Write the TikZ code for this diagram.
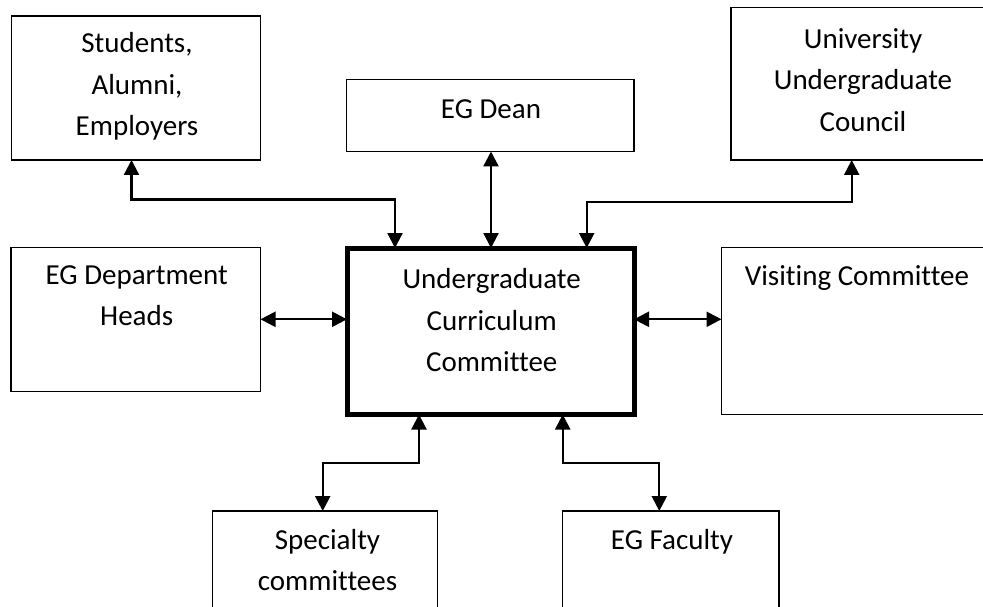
\documentclass[tikz,border=0pt]{standalone}
\usepackage{fontspec}
\setmainfont{Carlito}[Ligatures={NoCommon}]
\usetikzlibrary{arrows.meta}
\tikzset{
  box/.style={draw=black, line width=1.4pt, rectangle, inner sep=0pt, outer sep=0pt, anchor=north west},
  mainbox/.style={box, line width=5pt},
  lbl/.style={inner sep=0pt, align=center, anchor=north, font=\fontsize{29}{41.5}\selectfont},
  arr/.style={line width=2.3pt, {Triangle[width=15pt,length=15pt]}-{Triangle[width=15pt,length=15pt]}}
}
\begin{document}
\begin{tikzpicture}[x=1pt,y=-1pt]
\useasboundingbox (0,0) rectangle (983,607);
\clip (0,0) rectangle (983,607);
\fill[white] (0,0) rectangle (983,607);
% boxes (line-centre coordinates)
\node[box, minimum width=249pt, minimum height=144pt] (stu) at (11.5,16) {};
\node[box, minimum width=287.5pt, minimum height=72pt] (dean) at (346.5,79.5) {};
\node[box, minimum width=264pt, minimum height=152.5pt] (uni) at (731,7.5) {};
\node[box, minimum width=249.5pt, minimum height=144pt] (dept) at (11,247.5) {};
\node[mainbox, minimum width=287pt, minimum height=166.5pt] (cc) at (347,248) {};
\node[box, minimum width=274pt, minimum height=167pt] (vis) at (721.5,247.5) {};
\node[box, minimum width=225pt, minimum height=120pt] (spec) at (212.5,511) {};
\node[box, minimum width=216.5pt, minimum height=120pt] (fac) at (562.5,511) {};
% texts
\node[lbl] (stu-t) at (137,23.5) {\strut Students,\\\strut Alumni,\\\strut Employers};
\node[lbl] (dean-t) at (491,89.5) {\strut EG Dean};
\node[lbl] (uni-t) at (863,19) {\strut University\\\strut Undergraduate\\\strut Council};
\node[lbl] (dept-t) at (136.7,255) {\strut EG Department\\\strut Heads};
\node[lbl] (cc-t) at (491.7,259.5) {\strut Undergraduate\\\strut Curriculum\\\strut Committee};
\node[lbl] (vis-t) at (857,256.5) {\strut Visiting Committee};
\node[lbl] (spec-t) at (327.5,520) {\strut Specialty\\\strut committees};
\node[lbl] (fac-t) at (672,520) {\strut EG Faculty};
% routing coordinates
\coordinate (s1) at (131.5,199.5);
\coordinate (s2) at (395,199.5);
\coordinate (u1) at (851.7,201.7);
\coordinate (u2) at (586.7,201.7);
\coordinate (d1) at (491,0);
\coordinate (h1) at (0,319.3);
\coordinate (p1) at (419,463.3);
\coordinate (p2) at (322.7,463.3);
\coordinate (f1) at (562.7,463.3);
\coordinate (f2) at (659.3,463.3);
% connectors
\draw[arr] (stu.south -| s1) -- (s1) -- (s2) -- (cc.north -| s2);
\draw[arr] (dean.south -| d1) -- (cc.north -| d1);
\draw[arr] (uni.south -| u1) -- (u1) -- (u2) -- (cc.north -| u2);
\draw[arr] (dept.east |- h1) -- (cc.west |- h1);
\draw[arr] (cc.east |- h1) -- (vis.west |- h1);
\draw[arr] (cc.south -| p1) -- (p1) -- (p2) -- (spec.north -| p2);
\draw[arr] (cc.south -| f1) -- (f1) -- (f2) -- (fac.north -| f2);
\end{tikzpicture}
\end{document}
